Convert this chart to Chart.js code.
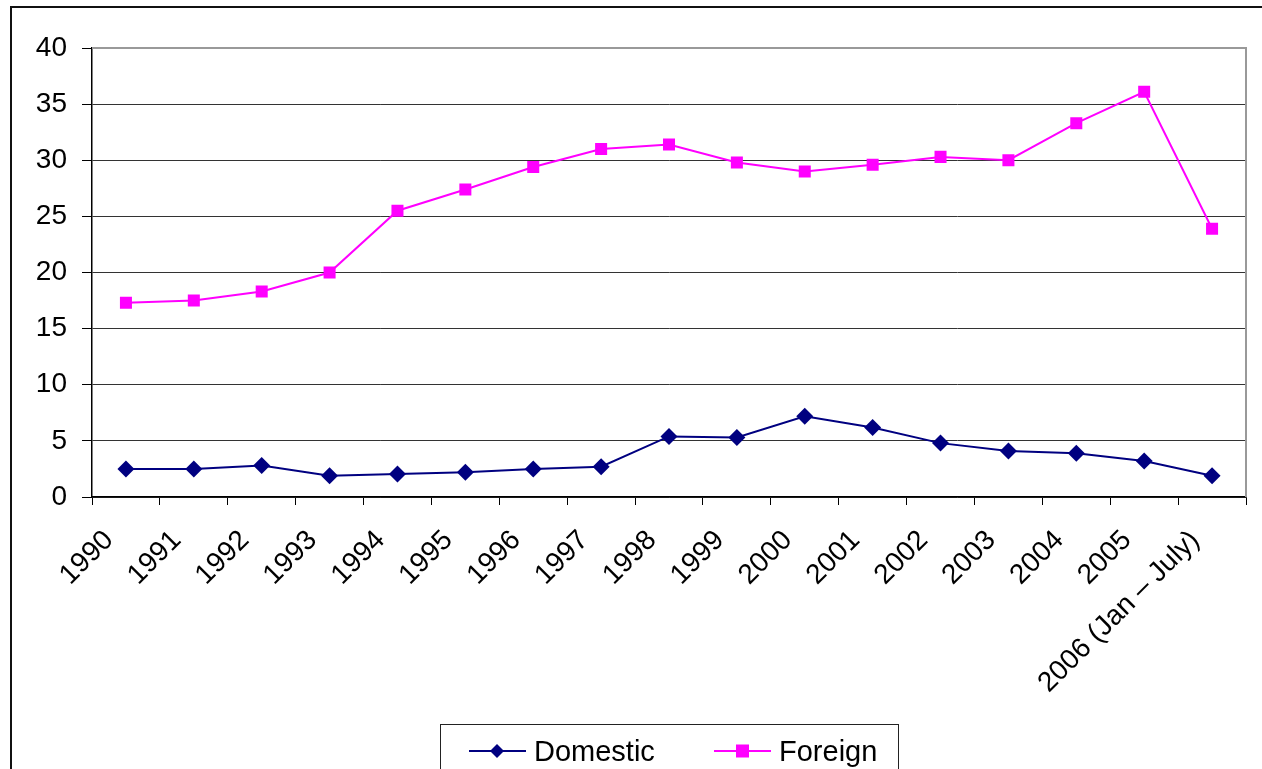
<!DOCTYPE html>
<html>
<head>
<meta charset="utf-8">
<script src="https://cdn.jsdelivr.net/npm/chart.js@4"></script>
<style>
  html, body { margin: 0; padding: 0; background: #fff; overflow: hidden; }
  #wrap { position: relative; width: 1262px; height: 769px; }
  #frame { position: absolute; left: 10px; top: 6px; width: 1300px; height: 800px;
           border-top: 2px solid #111; border-left: 2px solid #111; }
  #c { position: absolute; left: 0; top: 0; }
  #legend { position: absolute; left: 440px; top: 724px; width: 457px; height: 60px;
            border: 1px solid #222; font-family: 'Liberation Sans', Arial, sans-serif;
            font-size: 29px; color: #000; }
  .item { position: absolute; top: 9px; display: flex; align-items: center; height: 34px; }
  .item svg { margin-right: 8px; }
</style>
</head>
<body>
<div id="wrap">
  <div id="frame"></div>
  <canvas id="c" width="1262" height="769"></canvas>
  <div id="legend">
    <div class="item" style="left:28px">
      <svg width="57" height="20"><line x1="0" y1="10" x2="57" y2="10" stroke="#000080" stroke-width="2"/><polygon points="28,3 35,10 28,17 21,10" fill="#000080"/></svg>Domestic
    </div>
    <div class="item" style="left:273px">
      <svg width="57" height="20"><line x1="0" y1="10" x2="57" y2="10" stroke="#FF00FF" stroke-width="2"/><rect x="22" y="3.5" width="13" height="13" fill="#FF00FF"/></svg>Foreign
    </div>
  </div>
</div>
<script>
const years = ['1990', '1991', '1992', '1993', '1994', '1995', '1996', '1997', '1998',
    '1999', '2000', '2001', '2002', '2003', '2004', '2005', '2006 (Jan \u2013 July)'];

const domestic = [2.5, 2.5, 2.8, 1.9, 2.05, 2.2, 2.5, 2.7, 5.4, 5.3, 7.2, 6.2, 4.8, 4.1, 3.9, 3.2, 1.9];
const foreign = [17.3, 17.5, 18.3, 20.0, 25.5, 27.4, 29.4, 31.0, 31.4, 29.8, 29.0, 29.6, 30.3, 30.0, 33.3, 36.1, 23.9];

const yTicks = [0, 5, 10, 15, 20, 25, 30, 35, 40];

// grey border on top and right of the plot area
const plotBorder = {
    id: 'plotBorder',
    afterDraw(chart) {
        const { ctx, chartArea: a } = chart;
        ctx.save();
        ctx.strokeStyle = '#999';
        ctx.lineWidth = 2;
        ctx.beginPath();
        ctx.moveTo(a.left, a.top);
        ctx.lineTo(a.right, a.top);
        ctx.lineTo(a.right, a.bottom);
        ctx.stroke();
        ctx.restore();
    }
};

const font = { family: "'Liberation Sans', Arial, sans-serif", size: 28 };

new Chart(document.getElementById('c'), {
    type: 'line',
    data: {
        labels: years,
        datasets: [{
            label: 'Domestic',
            data: domestic,
            borderColor: '#000080',
            backgroundColor: '#000080',
            borderWidth: 2,
            pointStyle: 'rectRot',
            pointRadius: 8.5,
            pointBorderWidth: 0,
            tension: 0,
        }, {
            label: 'Foreign',
            data: foreign,
            borderColor: '#FF00FF',
            backgroundColor: '#FF00FF',
            borderWidth: 2,
            pointStyle: 'rect',
            pointRadius: 8.5,
            pointBorderWidth: 0,
            tension: 0,
        }]
    },
    options: {
        responsive: false,
        animation: false,
        devicePixelRatio: 1,
        layout: { padding: { top: 48, right: 16, left: 0, bottom: 0 } },
        plugins: {
            legend: { display: false },
            tooltip: { enabled: false },
        },
        scales: {
            x: {
                offset: true,
                grid: { offset: true, drawOnChartArea: false, drawTicks: true, tickLength: 8, color: '#000', lineWidth: 1 },
                border: { display: true, color: '#000', width: 1.5 },
                ticks: { font: font, color: '#000', minRotation: 45, maxRotation: 45, padding: 19, labelOffset: -17, autoSkip: false },
                afterFit(scale) { scale.height = 272; },
            },
            y: {
                min: 0,
                max: 40,
                afterBuildTicks(scale) { scale.ticks = yTicks.map(v => ({ value: v })); },
                grid: { color: '#333', lineWidth: 1, tickLength: 10, tickColor: '#000' },
                border: { display: true, color: '#000', width: 1.5 },
                ticks: { font: font, color: '#000', padding: 15 },
                afterFit(scale) { scale.width = 92; },
            }
        }
    },
    plugins: [plotBorder]
});
</script>
</body>
</html>
